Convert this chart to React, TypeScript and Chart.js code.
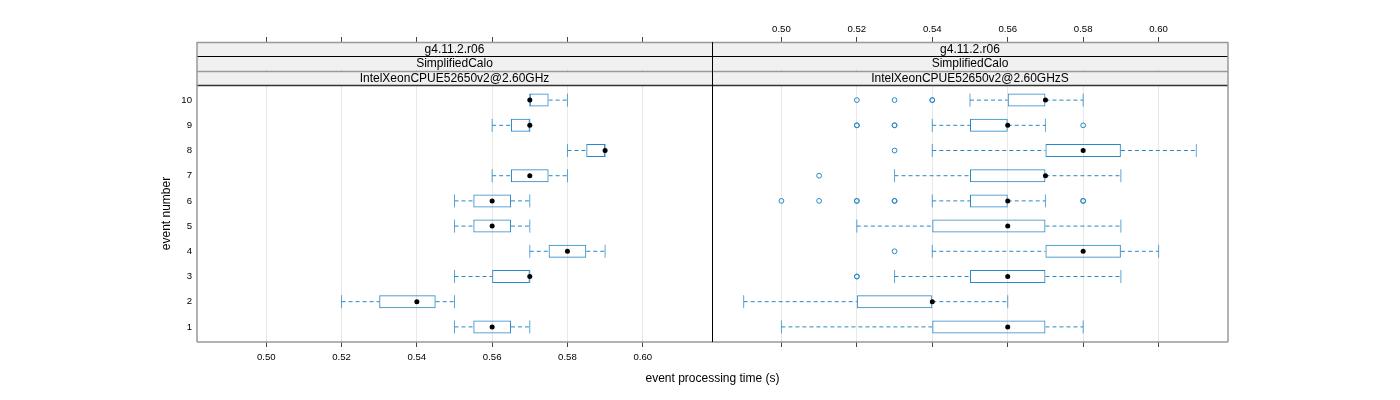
import React, { useEffect, useRef } from 'react';
import { Chart, registerables } from 'chart.js';

Chart.register(...registerables);
Chart.defaults.font.family = "'Liberation Sans', Arial, Helvetica, sans-serif";
Chart.defaults.color = '#000';

// ---------------- data ----------------
const events = [1, 2, 3, 4, 5, 6, 7, 8, 9, 10];
const xTickValues = [0.5, 0.52, 0.54, 0.56, 0.58, 0.6];
const xLimits = [0.4816, 0.6184];
const yLimits = [0.4, 10.6];

const stripLabelsLeft = ['g4.11.2.r06', 'SimplifiedCalo', 'IntelXeonCPUE52650v2@2.60GHz'];
const stripLabelsRight = ['g4.11.2.r06', 'SimplifiedCalo', 'IntelXeonCPUE52650v2@2.60GHzS'];

const leftLo = [0.55, 0.52, 0.55, 0.57, 0.55, 0.55, 0.56, 0.58, 0.56, 0.57];
const leftQ1 = [0.555, 0.53, 0.56, 0.575, 0.555, 0.555, 0.565, 0.585, 0.565, 0.57];
const leftMed = [0.56, 0.54, 0.57, 0.58, 0.56, 0.56, 0.57, 0.59, 0.57, 0.57];
const leftQ3 = [0.565, 0.545, 0.57, 0.585, 0.565, 0.565, 0.575, 0.59, 0.57, 0.575];
const leftHi = [0.57, 0.55, 0.57, 0.59, 0.57, 0.57, 0.58, 0.59, 0.57, 0.58];
const leftOutlierEvents: number[] = [];
const leftOutlierValues: number[] = [];

const rightLo = [0.5, 0.49, 0.53, 0.54, 0.52, 0.54, 0.53, 0.54, 0.54, 0.55];
const rightQ1 = [0.54, 0.52, 0.55, 0.57, 0.54, 0.55, 0.55, 0.57, 0.55, 0.56];
const rightMed = [0.56, 0.54, 0.56, 0.58, 0.56, 0.56, 0.57, 0.58, 0.56, 0.57];
const rightQ3 = [0.57, 0.54, 0.57, 0.59, 0.57, 0.56, 0.57, 0.59, 0.56, 0.57];
const rightHi = [0.58, 0.56, 0.59, 0.6, 0.59, 0.57, 0.59, 0.61, 0.57, 0.58];
const rightOutlierEvents = [10, 10, 10, 10, 9, 9, 9, 9, 9, 8, 7, 6, 6, 6, 6, 6, 6, 6, 6, 4, 3, 3];
const rightOutlierValues = [0.52, 0.53, 0.54, 0.54, 0.52, 0.52, 0.53, 0.53, 0.58, 0.53, 0.51, 0.5, 0.51, 0.52, 0.52, 0.53, 0.53, 0.58, 0.58, 0.53, 0.52, 0.52];

// ---------------- styles ----------------
const BLUE = '#2a88c6';
const CAP = 'rgba(42,136,198,0.75)';
const GRID = '#e8e8e8';
const TICK = '#444';
const FRAME = '#999';
const STRIP_BG = '#f0f0f0';
const STRIP_H = 14.3;

type Panel = {
  lo: number[]; q1: number[]; med: number[]; q3: number[]; hi: number[];
  outEv: number[]; outVal: number[]; strips: string[]; side: 'left' | 'right';
};

const panels: Panel[] = [
  { lo: leftLo, q1: leftQ1, med: leftMed, q3: leftQ3, hi: leftHi, outEv: leftOutlierEvents, outVal: leftOutlierValues, strips: stripLabelsLeft, side: 'left' },
  { lo: rightLo, q1: rightQ1, med: rightMed, q3: rightQ3, hi: rightHi, outEv: rightOutlierEvents, outVal: rightOutlierValues, strips: stripLabelsRight, side: 'right' },
];

function stripPlugin(p: Panel) {
  return {
    id: 'strips_' + p.side,
    afterDraw(chart: any) {
      const { ctx, chartArea: a } = chart;
      const w = a.right - a.left;
      const top = a.top - 3 * STRIP_H;
      ctx.save();
      p.strips.forEach((t, i) => {
        const y0 = top + i * STRIP_H;
        ctx.fillStyle = STRIP_BG;
        ctx.fillRect(a.left, y0, w, STRIP_H);
        ctx.fillStyle = '#000';
        ctx.font = "12px 'Liberation Sans', Arial, sans-serif";
        ctx.textAlign = 'center';
        ctx.textBaseline = 'middle';
        ctx.fillText(t, a.left + w / 2, y0 + STRIP_H / 2 + 0.5);
      });
      const lineCols = [FRAME, '#000', FRAME, '#333'];
      lineCols.forEach((c, i) => {
        const y = Math.round(top + i * STRIP_H) + 0.5;
        ctx.strokeStyle = c;
        ctx.lineWidth = c === '#000' ? 1 : 1.5;
        ctx.beginPath();
        ctx.moveTo(a.left, y);
        ctx.lineTo(a.right, y);
        ctx.stroke();
      });
      // panel frame
      ctx.strokeStyle = FRAME;
      ctx.lineWidth = 1.5;
      ctx.beginPath();
      if (p.side === 'left') {
        ctx.moveTo(a.left, top);
        ctx.lineTo(a.left, a.bottom);
      } else {
        ctx.moveTo(a.right, top);
        ctx.lineTo(a.right, a.bottom);
      }
      ctx.moveTo(a.left, a.bottom);
      ctx.lineTo(a.right, a.bottom);
      ctx.stroke();
      if (p.side === 'right') {
        ctx.strokeStyle = '#000';
        ctx.lineWidth = 1;
        ctx.beginPath();
        ctx.moveTo(Math.round(a.left) + 0.5, top);
        ctx.lineTo(Math.round(a.left) + 0.5, a.bottom);
        ctx.stroke();
      }
      ctx.restore();
    },
  };
}

function makeConfig(p: Panel): any {
  const isLeft = p.side === 'left';
  const whiskers: any[] = [];
  events.forEach((e, i) => {
    whiskers.push({ x: p.lo[i], y: e }, { x: p.q1[i], y: e }, { x: null, y: null });
    whiskers.push({ x: p.q3[i], y: e }, { x: p.hi[i], y: e }, { x: null, y: null });
  });
  const caps = events.flatMap((e, i) => [{ x: p.lo[i], y: e }, { x: p.hi[i], y: e }]);
  const medians = events.map((e, i) => ({ x: p.med[i], y: e }));
  const boxes = events.map((e, i) => ({ x: [p.q1[i], p.q3[i]], y: e }));
  const outliers = p.outEv.map((e, i) => ({ x: p.outVal[i], y: e }));

  const xTicks = (s: any) => { s.ticks = xTickValues.map((v) => ({ value: v })); };
  const tickFont = { size: 9.6 };

  return {
    type: 'scatter',
    data: {
      datasets: [
        { type: 'scatter', data: medians, xAxisID: 'x', yAxisID: 'y', pointRadius: 2.5, pointBackgroundColor: '#000', pointBorderColor: '#000', pointBorderWidth: 0, showLine: false },
        { type: 'scatter', data: outliers, xAxisID: 'x', yAxisID: 'y', pointRadius: 2.4, pointBackgroundColor: 'rgba(0,0,0,0)', pointBorderColor: BLUE, pointBorderWidth: 1, showLine: false },
        { type: 'bar', data: boxes, indexAxis: 'y', xAxisID: 'x', yAxisID: 'y', backgroundColor: 'rgba(0,0,0,0)', borderColor: BLUE, borderWidth: 1, borderSkipped: false, barThickness: 13, inflateAmount: 0 },
        { type: 'scatter', data: caps, xAxisID: 'x', yAxisID: 'y', pointStyle: 'line', rotation: 90, pointRadius: 6.5, pointBorderColor: CAP, pointBorderWidth: 1, showLine: false },
        { type: 'scatter', data: whiskers, xAxisID: 'x', yAxisID: 'y', showLine: true, spanGaps: false, borderColor: BLUE, borderWidth: 1, borderDash: [4, 3], pointRadius: 0 },
      ],
    },
    options: {
      responsive: false,
      animation: false,
      devicePixelRatio: 1,
      events: [],
      layout: { padding: isLeft ? { left: 157, right: 688, top: 25, bottom: 18 } : { left: 712, right: 172, top: 25, bottom: 18 } },
      plugins: { legend: { display: false }, tooltip: { enabled: false }, title: { display: false } },
      scales: {
        x: {
          type: 'linear', position: 'bottom', min: xLimits[0], max: xLimits[1], offset: false, beginAtZero: false,
          afterBuildTicks: xTicks,
          afterFit: (s: any) => { s.height = 40; },
          grid: { color: GRID, tickColor: TICK, tickLength: 5, lineWidth: 1, offset: false },
          border: { display: false },
          ticks: { display: isLeft, padding: 5, font: tickFont, color: '#000', callback: (v: any) => Number(v).toFixed(2) },
        },
        x2: {
          type: 'linear', axis: 'x', position: 'top', min: xLimits[0], max: xLimits[1], offset: false, beginAtZero: false,
          afterBuildTicks: xTicks,
          afterFit: (s: any) => { s.height = 60; },
          grid: { drawOnChartArea: false, tickColor: TICK, tickLength: 48, offset: false },
          border: { display: false },
          ticks: { display: !isLeft, padding: 2, font: tickFont, color: '#000', callback: (v: any) => Number(v).toFixed(2) },
        },
        y: {
          type: 'linear', display: isLeft, min: yLimits[0], max: yLimits[1], offset: false, beginAtZero: false,
          afterBuildTicks: (s: any) => { s.ticks = events.map((v) => ({ value: v })); },
          afterFit: (s: any) => { s.width = isLeft ? 40 : 0; },
          grid: { display: false, drawTicks: false, offset: false },
          border: { display: false },
          ticks: { padding: 5, font: tickFont, color: '#000', callback: (v: any) => String(v) },
          title: { display: true, text: 'event number', font: { size: 12 }, color: '#000', padding: { top: 2, bottom: 0 } },
        },
      },
    },
    plugins: [stripPlugin(p)],
  };
}

function PanelChart({ panel }: { panel: Panel }) {
  const ref = useRef<HTMLCanvasElement | null>(null);
  useEffect(() => {
    if (!ref.current) return;
    const chart = new Chart(ref.current, makeConfig(panel));
    return () => chart.destroy();
  }, [panel]);
  return <canvas ref={ref} width={1400} height={400} style={{ position: 'absolute', left: 0, top: 0, width: 1400, height: 400 }} />;
}

export default function App() {
  return (
    <div style={{ position: 'fixed', left: 0, top: 0, width: 1400, height: 400, background: '#fff', overflow: 'hidden' }}>
      {panels.map((p) => <PanelChart key={p.side} panel={p} />)}
      <div style={{ position: 'absolute', left: 712.5, top: 378, transform: 'translate(-50%, -50%)', fontFamily: "'Liberation Sans', Arial, sans-serif", fontSize: 12, whiteSpace: 'nowrap', color: '#000' }}>
        event processing time (s)
      </div>
    </div>
  );
}
